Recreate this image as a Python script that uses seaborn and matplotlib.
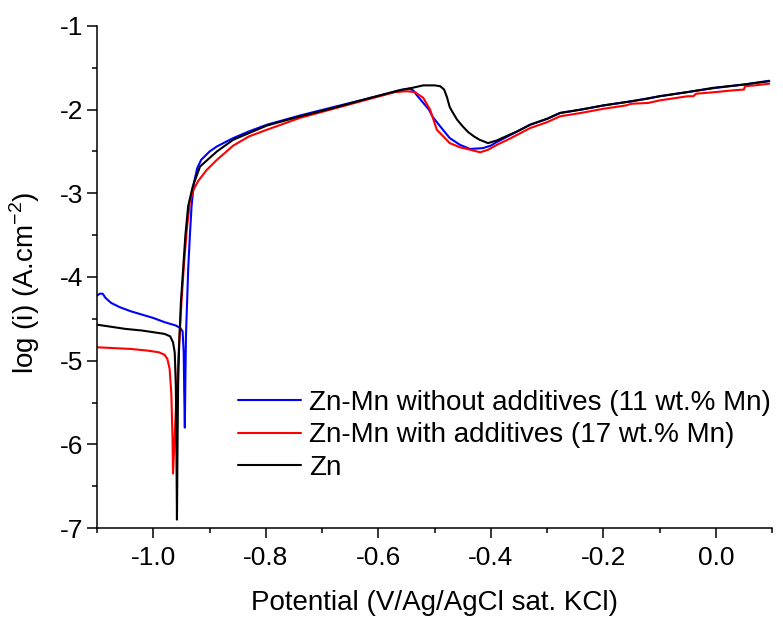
import numpy as np
import pandas as pd
import seaborn as sns
import matplotlib
matplotlib.use("Agg")
import matplotlib.pyplot as plt
from matplotlib.ticker import MultipleLocator

# Zn-Mn without additives (11 wt.% Mn)
blue_x = [-1.100, -1.095, -1.090, -1.085, -1.075, -1.060, -1.040, -1.020, -1.000, -0.980, -0.960,
          -0.952, -0.948, -0.946, -0.945, -0.944, -0.943, -0.942, -0.940, -0.938, -0.935, -0.932,
          -0.928, -0.922, -0.915, -0.900, -0.887, -0.858, -0.830, -0.798, -0.739, -0.680, -0.620,
          -0.560, -0.545, -0.538, -0.530, -0.520, -0.510, -0.503, -0.490, -0.473, -0.455, -0.437,
          -0.414, -0.400, -0.390, -0.370, -0.350, -0.330, -0.300, -0.277, -0.240, -0.200, -0.150,
          -0.100, -0.050, 0.000, 0.050, 0.095]
blue_y = [-4.22, -4.20, -4.20, -4.25, -4.31, -4.36, -4.41, -4.45, -4.49, -4.54, -4.58,
          -4.61, -4.65, -4.90, -5.40, -5.80, -5.20, -4.70, -4.30, -3.90, -3.50, -3.15,
          -2.88, -2.70, -2.60, -2.50, -2.44, -2.34, -2.26, -2.18, -2.07, -1.97, -1.87,
          -1.765, -1.75, -1.77, -1.84, -1.92, -2.00, -2.09, -2.20, -2.34, -2.42, -2.47,
          -2.46, -2.43, -2.39, -2.32, -2.25, -2.18, -2.11, -2.04, -2.00, -1.95, -1.90,
          -1.84, -1.79, -1.74, -1.70, -1.655]

# Zn-Mn with additives (17 wt.% Mn)
red_x = [-1.100, -1.070, -1.040, -1.010, -0.990, -0.980, -0.975, -0.971, -0.968, -0.966, -0.965,
         -0.960, -0.955, -0.950, -0.945, -0.940, -0.935, -0.928, -0.920, -0.905, -0.887, -0.858,
         -0.830, -0.798, -0.740, -0.680, -0.620, -0.570, -0.550, -0.535, -0.520, -0.508, -0.496,
         -0.473, -0.455, -0.442, -0.419, -0.405, -0.389, -0.370, -0.350, -0.330, -0.300, -0.277,
         -0.240, -0.200, -0.160, -0.150, -0.120, -0.100, -0.050, -0.040, -0.035, 0.000, 0.030,
         0.050, 0.052, 0.070, 0.095]
red_y = [-4.84, -4.85, -4.86, -4.88, -4.90, -4.93, -4.98, -5.10, -5.40, -5.90, -6.35,
         -5.60, -4.90, -4.30, -3.80, -3.40, -3.10, -2.95, -2.85, -2.72, -2.60, -2.43,
         -2.32, -2.24, -2.10, -1.99, -1.88, -1.79, -1.78, -1.79, -1.86, -2.00, -2.24,
         -2.40, -2.45, -2.47, -2.51, -2.48, -2.42, -2.36, -2.29, -2.22, -2.15, -2.08,
         -2.04, -1.99, -1.95, -1.93, -1.92, -1.89, -1.84, -1.84, -1.81, -1.79, -1.77,
         -1.76, -1.72, -1.71, -1.69]

# Zn
black_x = [-1.100, -1.080, -1.050, -1.020, -1.000, -0.980, -0.970, -0.965, -0.962, -0.960, -0.959,
           -0.958, -0.957, -0.956, -0.954, -0.951, -0.947, -0.943, -0.938, -0.930, -0.917, -0.887,
           -0.858, -0.798, -0.739, -0.680, -0.620, -0.560, -0.540, -0.520, -0.500, -0.490, -0.483,
           -0.478, -0.473, -0.468, -0.460, -0.450, -0.440, -0.430, -0.420, -0.405, -0.390, -0.370,
           -0.350, -0.330, -0.300, -0.277, -0.240, -0.200, -0.150, -0.122, -0.100, -0.050, -0.005,
           0.050, 0.095]
black_y = [-4.57, -4.59, -4.62, -4.64, -4.66, -4.68, -4.71, -4.78, -4.90, -5.30, -6.00,
           -6.90, -6.00, -5.30, -4.80, -4.30, -3.90, -3.50, -3.15, -2.92, -2.68, -2.50,
           -2.36, -2.19, -2.08, -1.98, -1.87, -1.765, -1.74, -1.71, -1.71, -1.72, -1.76,
           -1.85, -1.97, -2.03, -2.12, -2.20, -2.27, -2.32, -2.36, -2.40, -2.37, -2.31,
           -2.25, -2.18, -2.11, -2.04, -2.00, -1.95, -1.90, -1.87, -1.84, -1.79, -1.74,
           -1.70, -1.66]

labels = ["Zn-Mn without additives (11 wt.% Mn)",
          "Zn-Mn with additives (17 wt.% Mn)",
          "Zn"]
colors = ["#0000ff", "#ff0000", "#000000"]

frames = []
for lab, xs, ys in zip(labels, [blue_x, red_x, black_x], [blue_y, red_y, black_y]):
    frames.append(pd.DataFrame({"E": xs, "logi": ys, "sample": lab}))
df = pd.concat(frames, ignore_index=True)

sns.set_style("ticks")
plt.rcParams["font.family"] = ["Liberation Sans", "DejaVu Sans"]
plt.rcParams["mathtext.fontset"] = "custom"
plt.rcParams["mathtext.rm"] = "Liberation Sans"
for key in ["text.color", "axes.labelcolor", "xtick.color", "ytick.color", "axes.edgecolor"]:
    plt.rcParams[key] = "black"

fig = plt.figure(figsize=(7.83, 6.18), dpi=100)
ax = fig.add_axes([0.124, 0.1456, 0.862, 0.8124])

sns.lineplot(data=df, x="E", y="logi", hue="sample", hue_order=labels,
             palette=dict(zip(labels, colors)), sort=False, estimator=None,
             linewidth=1.5, ax=ax)

ax.set_xlim(-1.1, 0.1)
ax.set_ylim(-7, -1)
ax.xaxis.set_major_locator(MultipleLocator(0.2))
ax.xaxis.set_minor_locator(MultipleLocator(0.1))
ax.yaxis.set_major_locator(MultipleLocator(1))
ax.yaxis.set_minor_locator(MultipleLocator(0.5))
ax.set_xticks([-1.0, -0.8, -0.6, -0.4, -0.2, 0.0])
ax.set_xticklabels(["-1.0", "-0.8", "-0.6", "-0.4", "-0.2", "0.0"])
ax.set_yticks([-7, -6, -5, -4, -3, -2, -1])
ax.set_yticklabels(["-7", "-6", "-5", "-4", "-3", "-2", "-1"])

ax.tick_params(which="major", length=7, width=1.1, labelsize=19, color="black")
ax.tick_params(axis="x", which="major", pad=6)
ax.tick_params(axis="y", which="major", pad=3)
ax.tick_params(which="minor", length=3.6, width=1.1, color="black")
for side in ["left", "bottom"]:
    ax.spines[side].set_linewidth(1.1)
sns.despine(ax=ax)

ax.set_xlabel("Potential (V/Ag/AgCl sat. KCl)", fontsize=20, labelpad=14)
ax.set_ylabel(r"log (i) (A.cm$^{\mathregular{-2}}$)", fontsize=20)
ax.yaxis.set_label_coords(-0.082, 0.488)

ax.legend(loc="upper left", bbox_to_anchor=(0.209, 0.275), frameon=False,
          fontsize=20, handlelength=2.27, handletextpad=0.29, labelspacing=0.23,
          borderpad=0, borderaxespad=0)

fig.savefig("out.png", dpi=100)
